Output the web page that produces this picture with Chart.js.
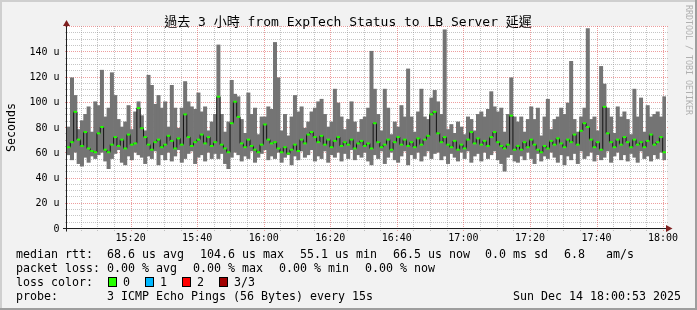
<!DOCTYPE html>
<html>
<head>
<meta charset="utf-8">
<script src="https://cdn.jsdelivr.net/npm/chart.js@4/dist/chart.umd.min.js"></script>
<style>
html,body{margin:0;padding:0;background:#f2f2f2;}
canvas{display:block;}
</style>
</head>
<body>
<canvas id="c" width="697" height="310"></canvas>
<script>
// ---- data ----
const START_MIN = 0.883;      // 15:00:53 expressed as minutes after 15:00
const STEP_MIN = 1;           // one consolidated sample per minute
const maxRtt = [
  80,119,105,78,85,90,96,76,100,97,125,88,95,123,105,86,80,84,97,78,92,100,89,77,121,113,98,105,95,100,80,113,95,79,95,116,100,96,94,107,92,96,77,84,90,
  145,90,76,84,117,106,104,86,75,107,90,95,74,88,88,96,94,147,119,77,90,73,88,105,92,96,79,84,92,95,100,102,90,80,84,110,99,88,78,86,100,84,76,86,88,
  95,140,110,90,77,110,95,74,84,80,97,88,126,88,76,92,110,88,86,103,109,100,90,157,78,82,75,84,80,74,88,86,77,90,92,88,94,108,96,92,95,76,90,119,88,
  84,88,76,86,96,86,95,73,88,102,78,86,88,95,90,99,132,86,76,88,95,158,86,88,77,128,114,95,88,75,96,88,92,86,74,110,88,103,76,97,88,90,92,88,104
];
const minRtt = [
  58,54,60,51,49,56,52,57,55,58,60,53,47,55,59,62,52,50,57,54,60,58,56,51,57,55,61,50,58,54,60,53,57,62,52,55,59,61,51,56,58,53,60,55,59,
  55,59,51,47,56,60,58,53,57,55,61,52,56,59,62,54,57,55,60,52,56,58,50,57,54,61,56,58,62,53,57,55,61,52,58,56,60,53,59,55,62,54,58,56,60,
  53,50,58,55,61,51,56,60,54,52,57,61,50,58,55,60,53,57,61,55,59,60,54,57,51,59,56,53,60,55,61,52,57,59,53,60,55,58,61,54,51,45,56,58,53,
  52,57,54,60,55,51,59,53,57,55,60,56,52,58,50,57,54,59,51,61,55,57,60,53,58,54,56,61,52,57,60,54,58,53,59,56,52,61,55,57,53,58,55,60,54
];
const medianRtt = [
  64,68,92,70,65,76,63,61,60,75,80,62,60,66,72,65,70,63,74,66,67,95,79,72,66,62,68,70,64,66,73,69,63,71,66,90,72,65,68,70,74,67,72,65,68,
  104,66,63,60,83,100,88,67,64,70,65,62,60,66,82,70,67,68,63,60,64,59,62,66,61,70,67,74,76,72,68,73,66,70,64,69,72,65,68,66,70,63,67,69,65,
  67,63,83,68,64,66,70,62,68,72,66,70,65,68,64,71,66,70,73,90,92,75,68,72,66,64,69,62,66,63,70,76,67,71,66,69,65,72,76,68,65,63,66,89,62,
  65,62,68,64,70,66,62,60,65,63,69,66,71,67,64,70,68,74,66,77,83,80,70,64,68,62,96,75,68,64,70,66,72,68,64,70,66,68,64,69,74,66,68,72,60
];
const xTickMinutes = [20,40,60,80,100,120,140,160,180];
const xTickLabels = ['15:20','15:40','16:00','16:20','16:40','17:00','17:20','17:40','18:00'];
const yTickValues = [0,20,40,60,80,100,120,140];
const yTickLabels = ['0','20 u','40 u','60 u','80 u','100 u','120 u','140 u'];
const Y_MAX = 160;
const titleText = '過去 3 小時 from ExpTech Status to LB Server 延遲';
const legendRows = [
  [['median rtt:',16],['68.6 us avg',107],['104.6 us max',200],['55.1 us min',300],['66.5 us now',393],['0.0 ms sd',485],['6.8',564],['am/s',606]],
  [['packet loss:',16],['0.00 % avg',107],['0.00 % max',193],['0.00 % min',279],['0.00 % now',365]],
  [['loss color:',16]],
  [['probe:',16],['3 ICMP Echo Pings (56 Bytes) every 15s',107]]
];
const lossLabels = ['0','1','2','3/3'];
const lossColors = ['#26ff00','#00b8ff','#ff0000','#a00000'];
const dateText = 'Sun Dec 14 18:00:53 2025';

const sampleTimes = medianRtt.map((_, i) => START_MIN + (i + 0.5) * STEP_MIN);

const MONO = "'DejaVu Sans Mono', 'Noto Sans CJK TC', monospace";

const rrdPlugin = {
  id: 'rrd',
  beforeDraw(chart) {
    const c = chart.ctx;
    const xs = chart.scales.x, ys = chart.scales.y;
    c.save();
    c.fillStyle = '#f2f2f2';
    c.fillRect(0, 0, chart.width, chart.height);
    // frame
    c.fillStyle = '#cfcfcf';
    c.fillRect(0, 0, chart.width, 2);
    c.fillRect(0, 0, 2, chart.height);
    c.fillStyle = '#9e9e9e';
    c.fillRect(chart.width - 2, 0, 2, chart.height);
    c.fillRect(0, chart.height - 2, chart.width, 2);
    c.fillStyle = '#ffffff';
    const l = xs.getPixelForValue(xs.min), r = xs.getPixelForValue(xs.max);
    const t = ys.getPixelForValue(ys.max), b = ys.getPixelForValue(ys.min);
    c.fillRect(l, t, r - l + 1, b - t);
    c.restore();
  },
  beforeDatasetsDraw(chart) {
    const c = chart.ctx;
    const xs = chart.scales.x, ys = chart.scales.y;
    const l = xs.getPixelForValue(xs.min), r = xs.getPixelForValue(xs.max);
    const t = ys.getPixelForValue(ys.max), b = ys.getPixelForValue(ys.min);
    c.save();
    c.lineWidth = 1;
    c.setLineDash([1, 1]);
    // horizontal grid
    for (let v = 5; v <= Y_MAX; v += 5) {
      const py = Math.round(ys.getPixelForValue(v)) + 0.5;
      c.strokeStyle = (v % 20 === 0) ? 'rgba(222,79,79,0.55)' : 'rgba(140,140,140,0.5)';
      c.beginPath(); c.moveTo(l - 2, py); c.lineTo(r + 2, py); c.stroke();
    }
    // vertical grid
    for (let m = 5; m <= 180; m += 5) {
      const px = Math.round(xs.getPixelForValue(m)) + 0.5;
      c.strokeStyle = (m % 20 === 0) ? 'rgba(222,79,79,0.55)' : 'rgba(140,140,140,0.5)';
      c.beginPath(); c.moveTo(px, t); c.lineTo(px, b + 3); c.stroke();
    }
    c.restore();
  },
  afterDraw(chart) {
    const c = chart.ctx;
    const xs = chart.scales.x, ys = chart.scales.y;
    const l = xs.getPixelForValue(xs.min), r = xs.getPixelForValue(xs.max);
    const t = ys.getPixelForValue(ys.max), b = ys.getPixelForValue(ys.min);
    c.save();
    // axes
    c.strokeStyle = '#1f1f1f';
    c.lineWidth = 1;
    const bx = Math.round(l) - 0.5, by = Math.round(b) + 0.5;
    c.beginPath(); c.moveTo(l - 4, by); c.lineTo(r + 1, by); c.stroke();
    c.beginPath(); c.moveTo(bx, by + 3); c.lineTo(bx, t - 1); c.stroke();
    // arrows
    c.fillStyle = '#7f1f1f';
    c.beginPath(); c.moveTo(r, by - 3.5); c.lineTo(r + 6.5, by); c.lineTo(r, by + 3.5); c.closePath(); c.fill();
    c.beginPath(); c.moveTo(bx - 3.5, t); c.lineTo(bx, t - 6); c.lineTo(bx + 3.5, t); c.closePath(); c.fill();

    c.fillStyle = '#000';
    // y tick labels
    c.font = '10px ' + MONO;
    c.textAlign = 'right';
    c.textBaseline = 'alphabetic';
    yTickValues.forEach((v, i) => {
      c.fillText(yTickLabels[i], 59.5, ys.getPixelForValue(v) + 3.7);
    });
    // x tick labels
    c.textAlign = 'center';
    xTickMinutes.forEach((m, i) => {
      c.fillText(xTickLabels[i], xs.getPixelForValue(m), 241.3);
    });
    // title
    c.font = '13px ' + MONO;
    c.textAlign = 'center';
    c.fillText(titleText, 348, 25.5);
    // y axis title
    c.save();
    c.font = '11.63px ' + MONO;
    c.translate(15, 127.5);
    c.rotate(-Math.PI / 2);
    c.textAlign = 'center';
    c.fillText('Seconds', 0, 0);
    c.restore();
    // watermark
    c.save();
    c.font = '8.3px ' + MONO;
    c.fillStyle = '#b0b0b0';
    c.translate(685.5, 5);
    c.rotate(Math.PI / 2);
    c.textAlign = 'left';
    c.fillText('RRDTOOL / TOBI OETIKER', 0, 0);
    c.restore();
    // legend
    c.font = '11.63px ' + MONO;
    c.textAlign = 'left';
    const baselines = [258, 272, 286, 300];
    legendRows.forEach((row, ri) => {
      row.forEach(([txt, x]) => c.fillText(txt, x, baselines[ri]));
    });
    lossLabels.forEach((lab, i) => {
      const x0 = 108 + i * 37;
      c.fillStyle = lossColors[i];
      c.fillRect(x0, 277, 9, 10);
      c.strokeStyle = '#000';
      c.lineWidth = 1;
      c.strokeRect(x0 + 0.5, 277.5, 8, 9);
      c.fillStyle = '#000';
      c.fillText(lab, x0 + 15, baselines[2]);
    });
    c.textAlign = 'right';
    c.fillText(dateText, 681, baselines[3]);
    c.restore();
  }
};

new Chart(document.getElementById('c'), {
  type: 'bar',
  data: {
    datasets: [
      {
        type: 'line',
        label: 'median',
        data: sampleTimes.map((t, i) => ({ x: t, y: medianRtt[i] })),
        stepped: 'middle',
        borderColor: '#141414',
        borderWidth: 1,
        pointStyle: 'line',
        pointRadius: 1.7,
        pointHoverRadius: 1.7,
        pointBorderWidth: 2,
        pointBorderColor: '#22ff00',
        pointBackgroundColor: '#22ff00',
        order: 0
      },
      {
        type: 'bar',
        label: 'smoke',
        data: sampleTimes.map((t, i) => ({ x: t, y: [minRtt[i], maxRtt[i]] })),
        backgroundColor: '#747474',
        borderWidth: 0,
        barPercentage: 1,
        categoryPercentage: 1,
        order: 1
      }
    ]
  },
  options: {
    responsive: false,
    animation: false,
    devicePixelRatio: 1,
    events: [],
    layout: { padding: { left: 67, right: 31, top: 26, bottom: 82 } },
    plugins: { legend: { display: false }, tooltip: { enabled: false } },
    scales: {
      x: { type: 'linear', min: START_MIN, max: START_MIN + 180, offset: false, display: false, grid: { offset: false } },
      y: { type: 'linear', min: 0, max: Y_MAX, offset: false, display: false }
    }
  },
  plugins: [rrdPlugin]
});
</script>
</body>
</html>
